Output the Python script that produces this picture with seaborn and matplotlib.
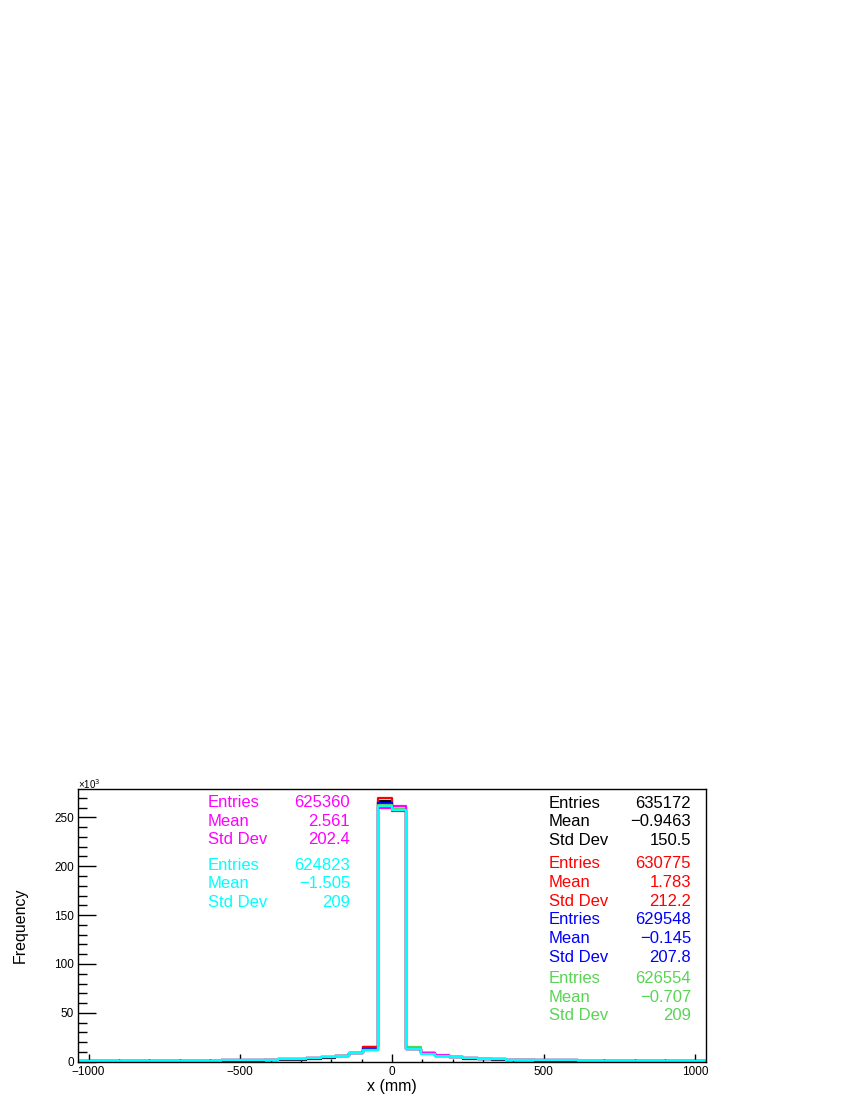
import numpy as np
import pandas as pd
import matplotlib
matplotlib.use("Agg")
import matplotlib.pyplot as plt
import seaborn as sns
from matplotlib.ticker import MultipleLocator

# binning: 44 bins from -1035 to 1035 mm
x_lo, x_hi, n_bins = -1035.0, 1035.0, 44

# counts per bin (x10^3), left edge -> right edge
black = [0.3, 0.3, 0.3, 0.4, 0.4, 0.4, 0.5, 0.5, 0.6, 0.7, 0.8, 0.9, 1.1, 1.3, 1.7, 2.2, 2.9, 3.9, 5.6, 8.8, 14.8,
         267.0, 259.0,
         13.5, 8.8, 6.0, 4.3, 3.2, 2.5, 2.0, 1.6, 1.3, 1.1, 0.9, 0.8, 0.7, 0.6, 0.5, 0.5, 0.4, 0.4, 0.3, 0.3, 0.3]
red = [0.5, 0.6, 0.6, 0.7, 0.7, 0.8, 0.9, 1.0, 1.1, 1.2, 1.4, 1.6, 1.8, 2.1, 2.5, 3.0, 3.6, 4.5, 6.1, 9.0, 15.0,
       270.0, 256.0,
       13.2, 8.6, 6.1, 4.5, 3.5, 2.8, 2.4, 2.1, 1.8, 1.6, 1.4, 1.3, 1.2, 1.1, 1.0, 0.9, 0.8, 0.7, 0.6, 0.6, 0.5]
blue = [0.5, 0.6, 0.6, 0.7, 0.7, 0.8, 0.9, 1.0, 1.1, 1.2, 1.4, 1.6, 1.8, 2.1, 2.5, 3.0, 3.6, 4.5, 6.0, 8.8, 12.5,
        265.0, 258.5,
        13.0, 8.6, 6.1, 4.5, 3.5, 2.8, 2.4, 2.1, 1.8, 1.6, 1.4, 1.3, 1.2, 1.1, 1.0, 0.9, 0.8, 0.7, 0.6, 0.6, 0.5]
green = [0.5, 0.6, 0.6, 0.7, 0.7, 0.8, 0.9, 1.0, 1.1, 1.2, 1.4, 1.6, 1.8, 2.1, 2.5, 3.0, 3.6, 4.5, 6.0, 8.7, 12.0,
         263.0, 258.5,
         14.8, 8.6, 6.1, 4.5, 3.5, 2.8, 2.4, 2.1, 1.8, 1.6, 1.4, 1.3, 1.2, 1.1, 1.0, 0.9, 0.8, 0.7, 0.6, 0.6, 0.5]
magenta = [0.5, 0.6, 0.6, 0.7, 0.7, 0.8, 0.9, 1.0, 1.1, 1.2, 1.4, 1.6, 1.8, 2.1, 2.5, 3.0, 3.5, 4.4, 5.9, 8.6, 12.0,
           260.0, 262.0,
           12.8, 9.4, 6.6, 4.8, 3.7, 2.9, 2.4, 2.1, 1.8, 1.6, 1.4, 1.3, 1.2, 1.1, 1.0, 0.9, 0.8, 0.7, 0.6, 0.6, 0.5]
cyan = [0.4, 0.5, 0.6, 0.7, 0.7, 0.8, 0.9, 1.0, 1.1, 1.2, 1.4, 1.6, 1.8, 2.1, 2.5, 3.0, 3.6, 4.5, 5.6, 8.5, 12.2,
        262.0, 258.0,
        12.6, 7.8, 5.6, 4.4, 3.3, 2.8, 2.4, 2.1, 1.9, 1.7, 1.5, 1.3, 1.2, 1.1, 1.0, 0.9, 0.8, 0.7, 0.6, 0.5, 0.4]

series = [black, red, blue, green, magenta, cyan]
colors = ["black", "#ff0000", "#0000ff", "#59d454", "#ff00ff", "#00ffff"]

# stats box texts
entries = ["635172", "630775", "629548", "626554", "625360", "624823"]
means = ["\u22120.9463", "1.783", "\u22120.145", "\u22120.707", "2.561", "\u22121.505"]
stds = ["150.5", "212.2", "207.8", "209", "202.4", "209"]

plt.rcParams["font.family"] = ["Liberation Sans", "DejaVu Sans"]

W, H = 847, 1096
fig = plt.figure(figsize=(W / 100, H / 100), dpi=100)
ax = fig.add_axes([78 / W, 1 - 1061.7 / H, (706 - 78) / W, (1061.7 - 789) / H])

edges = list(np.linspace(x_lo, x_hi, n_bins + 1))
centers = [0.5 * (a + b) for a, b in zip(edges[:-1], edges[1:])]
for vals, col in zip(series, colors):
    df = pd.DataFrame({"x": centers, "w": vals})
    sns.histplot(data=df, x="x", weights="w", bins=edges, element="step", fill=False,
                 color=col, linewidth=1.6, ax=ax)

ax.set_xlim(x_lo, x_hi)
ax.set_ylim(0, 279)
ax.set_xlabel("")
ax.set_ylabel("")
ax.xaxis.set_major_locator(MultipleLocator(500))
ax.xaxis.set_minor_locator(MultipleLocator(100))
ax.yaxis.set_major_locator(MultipleLocator(50))
ax.yaxis.set_minor_locator(MultipleLocator(10))
ax.tick_params(axis="y", which="major", direction="in", length=13, width=1, labelsize=8.5, pad=3)
ax.tick_params(axis="y", which="minor", direction="in", length=6.5, width=1)
ax.tick_params(axis="x", which="major", direction="in", length=5.5, width=1, labelsize=8.5, pad=3)
ax.tick_params(axis="x", which="minor", direction="in", length=2.5, width=1)
for s in ax.spines.values():
    s.set_color("black")
    s.set_linewidth(1)

fig.text(392 / W, 1 - 1086 / H, "x (mm)", ha="center", va="center", fontsize=11.5)
fig.text(20 / W, 1 - 925 / H, "Frequency", ha="center", va="center", rotation=90, fontsize=11.5)
fig.text(78 / W, 1 - 784 / H, "\u00d710$^{3}$", ha="left", va="center", fontsize=7)

# stats boxes: right column (black, red, blue, green), left column (magenta, cyan)
right_rows = [803.3, 864.0, 920.0, 978.7]
left_rows = [802.7, 865.0]
spacing = 18.6
boxes = [(549, 691, right_rows[0]), (549, 691, right_rows[1]), (549, 691, right_rows[2]),
         (549, 691, right_rows[3]), (208, 350, left_rows[0]), (208, 350, left_rows[1])]
for i, (xl, xr, y0) in enumerate(boxes):
    for j, (lab, val) in enumerate([("Entries", entries[i]), ("Mean", means[i]), ("Std Dev", stds[i])]):
        y = y0 + j * spacing
        fig.text(xl / W, 1 - y / H, lab, ha="left", va="center", fontsize=12, color=colors[i])
        fig.text(xr / W, 1 - y / H, val, ha="right", va="center", fontsize=12, color=colors[i])

fig.savefig("out.png", dpi=100)
